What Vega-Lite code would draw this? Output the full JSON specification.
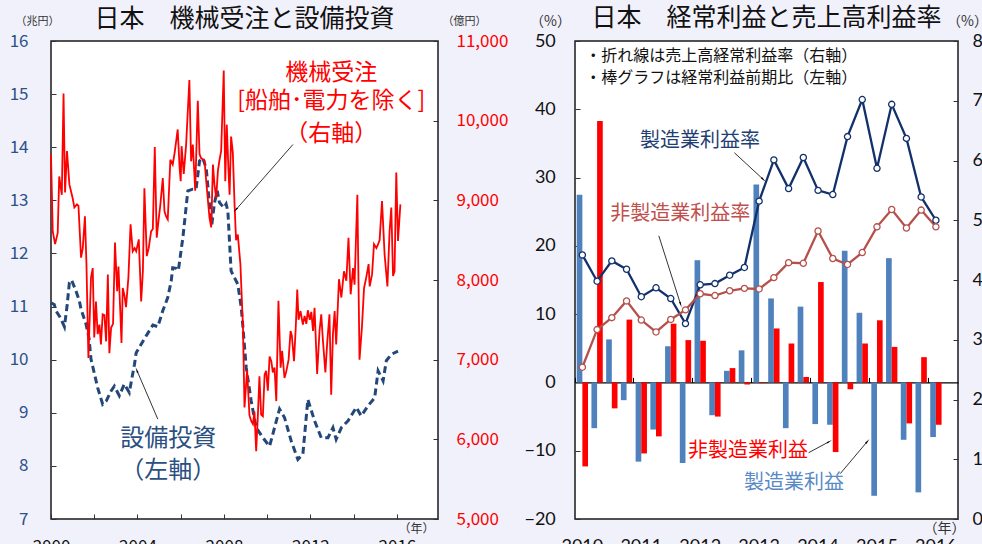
{
  "$schema": "https://vega.github.io/schema/vega-lite/v6.json",
  "background": "#f1f1fb",
  "padding": {"left": 8, "top": 5, "right": 0, "bottom": 0},
  "spacing": 137,
  "bounds": "flush",
  "config": {
    "view": {"stroke": "#1a1a1a", "strokeWidth": 1.5, "fill": "white"},
    "font": "Noto Sans CJK JP",
    "axis": {"grid": false, "domain": false, "tickColor": "#333", "tickWidth": 1, "labelFont": "Noto Sans CJK JP", "titleFont": "Noto Sans CJK JP", "titleFontWeight": "normal", "labelFontSize": 17, "labelOverlap": false},
    "text": {"font": "Noto Sans CJK JP"},
    "title": {"font": "Noto Sans CJK JP", "fontWeight": "normal", "fontSize": 25, "color": "#111"}
  },
  "datasets": {
    "orders": [
      {"t":2000.00,"v":9580},{"t":2000.08,"v":8610},{"t":2000.19,"v":8450},{"t":2000.31,"v":8590},{"t":2000.38,"v":9300},{"t":2000.50,"v":9070},{"t":2000.58,"v":10340},{"t":2000.65,"v":9100},{"t":2000.74,"v":9620},{"t":2000.85,"v":9200},{"t":2001.00,"v":9030},{"t":2001.08,"v":8910},{"t":2001.20,"v":8950},{"t":2001.27,"v":8930},{"t":2001.39,"v":8280},{"t":2001.47,"v":8400},{"t":2001.57,"v":8800},{"t":2001.64,"v":8200},{"t":2001.73,"v":7020},{"t":2001.80,"v":7600},{"t":2001.85,"v":8030},{"t":2001.93,"v":8150},{"t":2002.00,"v":7280},{"t":2002.08,"v":7730},{"t":2002.16,"v":7320},{"t":2002.24,"v":7440},{"t":2002.31,"v":7190},{"t":2002.39,"v":7570},{"t":2002.47,"v":7560},{"t":2002.55,"v":7230},{"t":2002.63,"v":8070},{"t":2002.70,"v":7080},{"t":2002.78,"v":7400},{"t":2002.87,"v":7450},{"t":2002.96,"v":8470},{"t":2003.06,"v":7860},{"t":2003.12,"v":8170},{"t":2003.21,"v":7570},{"t":2003.26,"v":7210},{"t":2003.32,"v":7900},{"t":2003.40,"v":7800},{"t":2003.47,"v":7660},{"t":2003.58,"v":8030},{"t":2003.68,"v":8700},{"t":2003.78,"v":8360},{"t":2003.87,"v":8400},{"t":2003.94,"v":8360},{"t":2004.06,"v":8510},{"t":2004.17,"v":7730},{"t":2004.25,"v":8110},{"t":2004.32,"v":9150},{"t":2004.43,"v":8300},{"t":2004.52,"v":8400},{"t":2004.63,"v":8610},{"t":2004.71,"v":8640},{"t":2004.80,"v":9670},{"t":2004.89,"v":8530},{"t":2004.97,"v":8740},{"t":2005.06,"v":8950},{"t":2005.17,"v":9280},{"t":2005.25,"v":8860},{"t":2005.32,"v":8800},{"t":2005.40,"v":8760},{"t":2005.52,"v":9510},{"t":2005.63,"v":9450},{"t":2005.72,"v":9600},{"t":2005.86,"v":9890},{"t":2005.95,"v":9400},{"t":2006.00,"v":9240},{"t":2006.04,"v":9680},{"t":2006.14,"v":9330},{"t":2006.25,"v":9700},{"t":2006.40,"v":10510},{"t":2006.48,"v":9490},{"t":2006.56,"v":9700},{"t":2006.67,"v":9120},{"t":2006.79,"v":10250},{"t":2006.87,"v":9580},{"t":2006.94,"v":9530},{"t":2007.10,"v":9500},{"t":2007.18,"v":9240},{"t":2007.33,"v":8780},{"t":2007.41,"v":8660},{"t":2007.49,"v":9450},{"t":2007.56,"v":9200},{"t":2007.64,"v":9030},{"t":2007.72,"v":9370},{"t":2007.79,"v":9500},{"t":2007.87,"v":9620},{"t":2007.99,"v":10630},{"t":2008.06,"v":9240},{"t":2008.13,"v":9950},{"t":2008.21,"v":9370},{"t":2008.26,"v":9070},{"t":2008.33,"v":9800},{"t":2008.41,"v":9600},{"t":2008.49,"v":8950},{"t":2008.56,"v":8500},{"t":2008.64,"v":8570},{"t":2008.76,"v":8200},{"t":2008.88,"v":7400},{"t":2008.95,"v":6400},{"t":2009.07,"v":6870},{"t":2009.18,"v":6300},{"t":2009.26,"v":6230},{"t":2009.34,"v":6190},{"t":2009.41,"v":6350},{"t":2009.49,"v":5850},{"t":2009.57,"v":6310},{"t":2009.64,"v":6790},{"t":2009.72,"v":6310},{"t":2009.80,"v":6290},{"t":2009.88,"v":6810},{"t":2009.95,"v":6860},{"t":2010.03,"v":6610},{"t":2010.11,"v":7040},{"t":2010.19,"v":6980},{"t":2010.26,"v":6840},{"t":2010.34,"v":6900},{"t":2010.42,"v":6480},{"t":2010.52,"v":7740},{"t":2010.62,"v":6900},{"t":2010.69,"v":7110},{"t":2010.80,"v":6770},{"t":2010.88,"v":6850},{"t":2010.99,"v":7000},{"t":2011.08,"v":7360},{"t":2011.14,"v":7300},{"t":2011.24,"v":6980},{"t":2011.32,"v":7400},{"t":2011.39,"v":7880},{"t":2011.45,"v":7500},{"t":2011.54,"v":7610},{"t":2011.65,"v":7440},{"t":2011.73,"v":7550},{"t":2011.81,"v":7450},{"t":2011.88,"v":7620},{"t":2011.97,"v":7500},{"t":2012.04,"v":7600},{"t":2012.12,"v":7360},{"t":2012.19,"v":7650},{"t":2012.31,"v":6820},{"t":2012.42,"v":7360},{"t":2012.50,"v":7570},{"t":2012.58,"v":7230},{"t":2012.69,"v":6840},{"t":2012.78,"v":7230},{"t":2012.88,"v":7570},{"t":2012.96,"v":6560},{"t":2013.04,"v":7320},{"t":2013.12,"v":7610},{"t":2013.19,"v":7190},{"t":2013.32,"v":8010},{"t":2013.43,"v":7780},{"t":2013.55,"v":8110},{"t":2013.66,"v":7990},{"t":2013.76,"v":8530},{"t":2013.86,"v":7820},{"t":2013.97,"v":8150},{"t":2014.04,"v":7940},{"t":2014.17,"v":9070},{"t":2014.27,"v":7000},{"t":2014.38,"v":7400},{"t":2014.48,"v":7900},{"t":2014.58,"v":8030},{"t":2014.69,"v":8200},{"t":2014.74,"v":7920},{"t":2014.85,"v":8070},{"t":2014.94,"v":8450},{"t":2015.05,"v":8400},{"t":2015.13,"v":8450},{"t":2015.20,"v":8500},{"t":2015.31,"v":8990},{"t":2015.43,"v":8320},{"t":2015.56,"v":7920},{"t":2015.66,"v":8610},{"t":2015.74,"v":8910},{"t":2015.82,"v":8050},{"t":2015.89,"v":8110},{"t":2015.97,"v":9350},{"t":2016.05,"v":8490},{"t":2016.16,"v":8950}
    ],
    "capex": [
      {"t":2000.00,"v":11.07},{"t":2000.15,"v":11.04},{"t":2000.23,"v":10.92},{"t":2000.42,"v":10.80},{"t":2000.62,"v":10.62},{"t":2000.74,"v":11.00},{"t":2000.85,"v":11.45},{"t":2000.95,"v":11.50},{"t":2001.16,"v":11.29},{"t":2001.31,"v":11.11},{"t":2001.39,"v":10.95},{"t":2001.62,"v":10.67},{"t":2001.76,"v":10.40},{"t":2001.85,"v":10.01},{"t":2002.16,"v":9.47},{"t":2002.39,"v":9.16},{"t":2002.55,"v":9.22},{"t":2002.78,"v":9.41},{"t":2002.93,"v":9.50},{"t":2003.16,"v":9.32},{"t":2003.39,"v":9.54},{"t":2003.62,"v":9.38},{"t":2003.86,"v":9.91},{"t":2003.94,"v":10.13},{"t":2004.17,"v":10.29},{"t":2004.48,"v":10.50},{"t":2004.71,"v":10.65},{"t":2004.94,"v":10.62},{"t":2005.17,"v":10.92},{"t":2005.40,"v":11.17},{"t":2005.56,"v":11.48},{"t":2005.63,"v":11.73},{"t":2005.79,"v":11.72},{"t":2005.89,"v":11.68},{"t":2006.10,"v":12.30},{"t":2006.33,"v":13.18},{"t":2006.56,"v":13.21},{"t":2006.71,"v":13.21},{"t":2006.87,"v":13.74},{"t":2007.02,"v":13.80},{"t":2007.18,"v":13.60},{"t":2007.33,"v":12.93},{"t":2007.44,"v":12.55},{"t":2007.56,"v":12.95},{"t":2007.69,"v":13.18},{"t":2007.79,"v":12.96},{"t":2007.99,"v":12.86},{"t":2008.10,"v":12.93},{"t":2008.18,"v":12.80},{"t":2008.33,"v":11.67},{"t":2008.49,"v":11.54},{"t":2008.64,"v":11.42},{"t":2008.80,"v":10.98},{"t":2008.88,"v":10.60},{"t":2009.03,"v":9.85},{"t":2009.26,"v":9.22},{"t":2009.49,"v":8.72},{"t":2009.80,"v":8.53},{"t":2010.11,"v":8.37},{"t":2010.34,"v":8.72},{"t":2010.57,"v":9.07},{"t":2010.80,"v":8.91},{"t":2011.11,"v":8.47},{"t":2011.42,"v":8.12},{"t":2011.65,"v":8.22},{"t":2011.88,"v":9.25},{"t":2012.19,"v":8.85},{"t":2012.50,"v":8.53},{"t":2012.81,"v":8.53},{"t":2013.04,"v":8.72},{"t":2013.19,"v":8.50},{"t":2013.43,"v":8.72},{"t":2013.74,"v":8.85},{"t":2014.12,"v":9.10},{"t":2014.35,"v":8.94},{"t":2014.66,"v":9.13},{"t":2014.97,"v":9.28},{"t":2015.13,"v":9.79},{"t":2015.36,"v":9.60},{"t":2015.51,"v":9.98},{"t":2015.74,"v":10.10},{"t":2016.05,"v":10.16}
    ],
    "profit": [
      {"q":"2010Q1","s":"製造業","v":27.5},{"q":"2010Q1","s":"非製造業","v":-12.3},
      {"q":"2010Q2","s":"製造業","v":-6.7},{"q":"2010Q2","s":"非製造業","v":38.3},
      {"q":"2010Q3","s":"製造業","v":6.3},{"q":"2010Q3","s":"非製造業","v":-3.8},
      {"q":"2010Q4","s":"製造業","v":-2.6},{"q":"2010Q4","s":"非製造業","v":9.2},
      {"q":"2011Q1","s":"製造業","v":-11.6},{"q":"2011Q1","s":"非製造業","v":-10.4},
      {"q":"2011Q2","s":"製造業","v":-6.9},{"q":"2011Q2","s":"非製造業","v":-7.9},
      {"q":"2011Q3","s":"製造業","v":5.3},{"q":"2011Q3","s":"非製造業","v":8.6},
      {"q":"2011Q4","s":"製造業","v":-11.8},{"q":"2011Q4","s":"非製造業","v":6.2},
      {"q":"2012Q1","s":"製造業","v":17.9},{"q":"2012Q1","s":"非製造業","v":6.1},
      {"q":"2012Q2","s":"製造業","v":-4.8},{"q":"2012Q2","s":"非製造業","v":-5.0},
      {"q":"2012Q3","s":"製造業","v":1.7},{"q":"2012Q3","s":"非製造業","v":2.1},
      {"q":"2012Q4","s":"製造業","v":4.7},{"q":"2012Q4","s":"非製造業","v":-0.3},
      {"q":"2013Q1","s":"製造業","v":29.0},{"q":"2013Q1","s":"非製造業","v":-0.1},
      {"q":"2013Q2","s":"製造業","v":12.3},{"q":"2013Q2","s":"非製造業","v":7.9},
      {"q":"2013Q3","s":"製造業","v":-6.7},{"q":"2013Q3","s":"非製造業","v":5.7},
      {"q":"2013Q4","s":"製造業","v":11.1},{"q":"2013Q4","s":"非製造業","v":0.8},
      {"q":"2014Q1","s":"製造業","v":-6.1},{"q":"2014Q1","s":"非製造業","v":14.7},
      {"q":"2014Q2","s":"製造業","v":-6.2},{"q":"2014Q2","s":"非製造業","v":-10.2},
      {"q":"2014Q3","s":"製造業","v":19.3},{"q":"2014Q3","s":"非製造業","v":-1.0},
      {"q":"2014Q4","s":"製造業","v":10.2},{"q":"2014Q4","s":"非製造業","v":5.7},
      {"q":"2015Q1","s":"製造業","v":-16.6},{"q":"2015Q1","s":"非製造業","v":9.1},
      {"q":"2015Q2","s":"製造業","v":18.2},{"q":"2015Q2","s":"非製造業","v":5.2},
      {"q":"2015Q3","s":"製造業","v":-8.4},{"q":"2015Q3","s":"非製造業","v":-6.0},
      {"q":"2015Q4","s":"製造業","v":-16.1},{"q":"2015Q4","s":"非製造業","v":3.7},
      {"q":"2016Q1","s":"製造業","v":-8.0},{"q":"2016Q1","s":"非製造業","v":-6.2}
    ],
    "margin": [
      {"q":"2010Q1","s":"製造業","v":4.42},{"q":"2010Q2","s":"製造業","v":3.98},{"q":"2010Q3","s":"製造業","v":4.32},{"q":"2010Q4","s":"製造業","v":4.18},
      {"q":"2011Q1","s":"製造業","v":3.72},{"q":"2011Q2","s":"製造業","v":3.87},{"q":"2011Q3","s":"製造業","v":3.69},{"q":"2011Q4","s":"製造業","v":3.27},
      {"q":"2012Q1","s":"製造業","v":3.92},{"q":"2012Q2","s":"製造業","v":3.94},{"q":"2012Q3","s":"製造業","v":4.08},{"q":"2012Q4","s":"製造業","v":4.21},
      {"q":"2013Q1","s":"製造業","v":5.32},{"q":"2013Q2","s":"製造業","v":6.01},{"q":"2013Q3","s":"製造業","v":5.53},{"q":"2013Q4","s":"製造業","v":6.05},
      {"q":"2014Q1","s":"製造業","v":5.50},{"q":"2014Q2","s":"製造業","v":5.43},{"q":"2014Q3","s":"製造業","v":6.40},{"q":"2014Q4","s":"製造業","v":7.02},
      {"q":"2015Q1","s":"製造業","v":5.87},{"q":"2015Q2","s":"製造業","v":6.94},{"q":"2015Q3","s":"製造業","v":6.37},{"q":"2015Q4","s":"製造業","v":5.39},
      {"q":"2016Q1","s":"製造業","v":5.00},
      {"q":"2010Q1","s":"非製造業","v":2.54},{"q":"2010Q2","s":"非製造業","v":3.17},{"q":"2010Q3","s":"非製造業","v":3.37},{"q":"2010Q4","s":"非製造業","v":3.65},
      {"q":"2011Q1","s":"非製造業","v":3.33},{"q":"2011Q2","s":"非製造業","v":3.13},{"q":"2011Q3","s":"非製造業","v":3.34},{"q":"2011Q4","s":"非製造業","v":3.50},
      {"q":"2012Q1","s":"非製造業","v":3.77},{"q":"2012Q2","s":"非製造業","v":3.74},{"q":"2012Q3","s":"非製造業","v":3.82},{"q":"2012Q4","s":"非製造業","v":3.86},
      {"q":"2013Q1","s":"非製造業","v":3.85},{"q":"2013Q2","s":"非製造業","v":4.04},{"q":"2013Q3","s":"非製造業","v":4.29},{"q":"2013Q4","s":"非製造業","v":4.28},
      {"q":"2014Q1","s":"非製造業","v":4.82},{"q":"2014Q2","s":"非製造業","v":4.36},{"q":"2014Q3","s":"非製造業","v":4.26},{"q":"2014Q4","s":"非製造業","v":4.46},
      {"q":"2015Q1","s":"非製造業","v":4.89},{"q":"2015Q2","s":"非製造業","v":5.18},{"q":"2015Q3","s":"非製造業","v":4.87},{"q":"2015Q4","s":"非製造業","v":5.17},
      {"q":"2016Q1","s":"非製造業","v":4.89}
    ]
  },
  "hconcat": [
    {
      "width": 387,
      "height": 478,
      "title": {"text": "日本　機械受注と設備投資", "anchor": "middle", "offset": -17},
      "layer": [
        {
          "layer": [
            {
              "data": {"name": "capex"},
              "mark": {"type": "line", "color": "#24477a", "strokeWidth": 3, "strokeDash": [7, 4]},
              "encoding": {
                "x": {"field": "t", "type": "quantitative", "scale": {"domain": [2000, 2017.9], "nice": false, "zero": false},
                  "axis": {"values": [2000, 2002, 2004, 2006, 2008, 2010, 2012, 2014, 2016], "labelExpr": "datum.value % 4 == 0 ? format(datum.value, 'd') : ''", "labelFlush": false, "tickSize": -5, "labelPadding": 24, "labelColor": "#111", "title": "（年）", "titleFontSize": 12, "titleColor": "#333", "titleX": 365, "titleY": 9, "titleAlign": "center", "titleBaseline": "middle"}},
                "y": {"field": "v", "type": "quantitative", "scale": {"domain": [7, 16], "nice": false, "zero": false},
                  "axis": {"values": [7, 8, 9, 10, 11, 12, 13, 14, 15, 16], "tickSize": -5, "labelPadding": 28, "labelColor": "#2b5289", "title": "（兆円）", "titleAngle": 0, "titleFontSize": 11, "titleColor": "#333", "titleX": -14, "titleY": -20, "titleAlign": "center", "titleBaseline": "middle"}}
              }
            },
            {
              "data": {"values": [{"label": "設備投資", "t": 2005.42, "v": 8.51}, {"label": "（左軸）", "t": 2005.42, "v": 7.9}]},
              "mark": {"type": "text", "color": "#2a4f80", "fontSize": 24, "baseline": "middle", "align": "center"},
              "encoding": {
                "x": {"field": "t", "type": "quantitative", "scale": {"domain": [2000, 2017.9], "nice": false, "zero": false}},
                "y": {"field": "v", "type": "quantitative", "scale": {"domain": [7, 16], "nice": false, "zero": false}},
                "text": {"field": "label"}
              }
            },
            {
              "data": {"values": [{"t1": 2004.94, "v1": 8.88, "t2": 2003.98, "v2": 9.79}]},
              "mark": {"type": "rule", "color": "#000", "strokeWidth": 0.8},
              "encoding": {
                "x": {"field": "t1", "type": "quantitative", "scale": {"domain": [2000, 2017.9], "nice": false, "zero": false}},
                "y": {"field": "v1", "type": "quantitative", "scale": {"domain": [7, 16], "nice": false, "zero": false}},
                "x2": {"field": "t2"},
                "y2": {"field": "v2"}
              }
            },
            {
              "data": {"values": [{"t1": 2004.94, "v1": 8.88, "t2": 2003.98, "v2": 9.79}]},
              "mark": {"type": "point", "shape": "wedge", "angle": 337, "size": 45, "filled": true, "color": "#000", "opacity": 1},
              "encoding": {
                "x": {"field": "t2", "type": "quantitative", "scale": {"domain": [2000, 2017.9], "nice": false, "zero": false}},
                "y": {"field": "v2", "type": "quantitative", "scale": {"domain": [7, 16], "nice": false, "zero": false}}
              }
            }
          ]
        },
        {
          "layer": [
            {
              "data": {"name": "orders"},
              "mark": {"type": "line", "color": "#ff0000", "strokeWidth": 1.8},
              "encoding": {
                "x": {"field": "t", "type": "quantitative", "scale": {"domain": [2000, 2017.9], "nice": false, "zero": false}},
                "y": {"field": "v", "type": "quantitative", "scale": {"domain": [5000, 11000], "nice": false, "zero": false},
                  "axis": {"orient": "right", "values": [5000, 6000, 7000, 8000, 9000, 10000, 11000], "labelExpr": "format(datum.value, ',')", "tickSize": -5, "labelPadding": 23, "labelColor": "#ff0000", "title": "（億円）", "titleAngle": 0, "titleFontSize": 11, "titleColor": "#333", "titleX": 26, "titleY": -20, "titleAlign": "center", "titleBaseline": "middle"}}
              }
            },
            {
              "data": {"values": [{"label": "機械受注", "t": 2012.96, "v": 10596}, {"label": "[船舶･電力を除く]", "t": 2012.96, "v": 10245}, {"label": "（右軸）", "t": 2012.96, "v": 9831}]},
              "mark": {"type": "text", "color": "#ff0000", "fontSize": 23, "baseline": "middle", "align": "center"},
              "encoding": {
                "x": {"field": "t", "type": "quantitative", "scale": {"domain": [2000, 2017.9], "nice": false, "zero": false}},
                "y": {"field": "v", "type": "quantitative", "scale": {"domain": [5000, 11000], "nice": false, "zero": false}},
                "text": {"field": "label"}
              }
            },
            {
              "data": {"values": [{"t1": 2011.19, "v1": 9701, "t2": 2008.565, "v2": 8886}]},
              "mark": {"type": "rule", "color": "#000", "strokeWidth": 0.8},
              "encoding": {
                "x": {"field": "t1", "type": "quantitative", "scale": {"domain": [2000, 2017.9], "nice": false, "zero": false}},
                "y": {"field": "v1", "type": "quantitative", "scale": {"domain": [5000, 11000], "nice": false, "zero": false}},
                "x2": {"field": "t2"},
                "y2": {"field": "v2"}
              }
            },
            {
              "data": {"values": [{"t1": 2011.19, "v1": 9701, "t2": 2008.565, "v2": 8886}]},
              "mark": {"type": "point", "shape": "wedge", "angle": 221, "size": 45, "filled": true, "color": "#000", "opacity": 1},
              "encoding": {
                "x": {"field": "t2", "type": "quantitative", "scale": {"domain": [2000, 2017.9], "nice": false, "zero": false}},
                "y": {"field": "v2", "type": "quantitative", "scale": {"domain": [5000, 11000], "nice": false, "zero": false}}
              }
            }
          ]
        }
      ],
      "resolve": {"scale": {"y": "independent"}}
    },
    {
      "width": 383,
      "height": 478,
      "title": {"text": "日本　経常利益と売上高利益率", "anchor": "middle", "offset": -17},
      "layer": [
        {
          "layer": [
            {
              "data": {"name": "profit"},
              "mark": {"type": "bar"},
              "encoding": {
                "x": {"field": "q", "type": "ordinal",
                  "scale": {"domain": ["2010Q1","2010Q2","2010Q3","2010Q4","2011Q1","2011Q2","2011Q3","2011Q4","2012Q1","2012Q2","2012Q3","2012Q4","2013Q1","2013Q2","2013Q3","2013Q4","2014Q1","2014Q2","2014Q3","2014Q4","2015Q1","2015Q2","2015Q3","2015Q4","2016Q1","2016Q2"], "paddingInner": 0, "paddingOuter": 0},
                  "axis": {"values": ["2010Q1","2011Q1","2012Q1","2013Q1","2014Q1","2015Q1","2016Q1"], "bandPosition": 0, "labelExpr": "substring(datum.value, 0, 4)", "labelOffset": 0, "labelAngle": 0, "offset": -136.6, "tickSize": -5, "tickColor": "#000", "domain": true, "domainColor": "#000", "domainWidth": 1.2, "labelPadding": 160, "labelColor": "#111", "labelFont": "Lato", "labelFontSize": 18, "title": "（年）", "titleFontSize": 14, "titleColor": "#333", "titleX": 369, "titleY": 146, "titleAlign": "center", "titleBaseline": "middle"}},
                "xOffset": {"field": "s", "type": "nominal", "sort": ["製造業", "非製造業"], "scale": {"paddingOuter": 0.3, "paddingInner": 0}},
                "y": {"field": "v", "type": "quantitative", "scale": {"domain": [-20, 50], "nice": false, "zero": false},
                  "axis": {"values": [-20, -10, 0, 10, 20, 30, 40, 50], "tickSize": -5, "labelPadding": 24.7, "labelColor": "#111", "labelFont": "Lato", "labelFontSize": 18, "title": "（%）", "titleAngle": 0, "titleFontSize": 14, "titleColor": "#333", "titleX": -25, "titleY": -20, "titleAlign": "center", "titleBaseline": "middle"}},
                "color": {"field": "s", "type": "nominal", "scale": {"domain": ["製造業", "非製造業"], "range": ["#4f81bd", "#ff0000"]}, "legend": null}
              }
            }
          ]
        },
        {
          "layer": [
            {
              "data": {"name": "margin"},
              "mark": {"type": "line", "strokeWidth": 2.3},
              "encoding": {
                "x": {"field": "q", "type": "ordinal",
                  "scale": {"domain": ["2010Q1","2010Q2","2010Q3","2010Q4","2011Q1","2011Q2","2011Q3","2011Q4","2012Q1","2012Q2","2012Q3","2012Q4","2013Q1","2013Q2","2013Q3","2013Q4","2014Q1","2014Q2","2014Q3","2014Q4","2015Q1","2015Q2","2015Q3","2015Q4","2016Q1","2016Q2"], "paddingInner": 0, "paddingOuter": 0}, "axis": null},
                "y": {"field": "v", "type": "quantitative", "scale": {"domain": [0, 8], "nice": false, "zero": false},
                  "axis": {"orient": "right", "values": [0, 1, 2, 3, 4, 5, 6, 7, 8], "tickSize": -5, "labelPadding": 19, "labelColor": "#111", "labelFont": "Lato", "labelFontSize": 18, "title": "（%）", "titleAngle": 0, "titleFontSize": 14, "titleColor": "#333", "titleX": 9, "titleY": -20, "titleAlign": "center", "titleBaseline": "middle"}},
                "color": {"field": "s", "type": "nominal", "scale": {"domain": ["製造業", "非製造業"], "range": ["#12306b", "#b5504b"]}, "legend": null}
              }
            },
            {
              "data": {"name": "margin"},
              "mark": {"type": "point", "filled": true, "fill": "white", "size": 38, "strokeWidth": 1.3, "opacity": 1},
              "encoding": {
                "x": {"field": "q", "type": "ordinal"},
                "y": {"field": "v", "type": "quantitative"},
                "stroke": {"field": "s", "type": "nominal", "scale": {"domain": ["製造業", "非製造業"], "range": ["#12306b", "#b5504b"]}, "legend": null}
              }
            }
          ]
        },
        {
          "layer": [
            {
              "data": {"values": [{"label": "・折れ線は売上高経常利益率（右軸）", "u": 0.7, "w": 7.75}, {"label": "・棒グラフは経常利益前期比（左軸）", "u": 0.7, "w": 7.38}]},
              "mark": {"type": "text", "color": "#111", "fontSize": 16, "align": "left", "baseline": "middle"},
              "encoding": {
                "x": {"field": "u", "type": "quantitative", "scale": {"domain": [0, 26], "nice": false, "zero": false}, "axis": null},
                "y": {"field": "w", "type": "quantitative", "scale": {"domain": [0, 8], "nice": false, "zero": false}, "axis": null},
                "text": {"field": "label"}
              }
            },
            {
              "data": {"values": [{"label": "製造業利益率", "u": 8.49, "w": 6.33}]},
              "mark": {"type": "text", "color": "#1f3f73", "fontSize": 20, "align": "center", "baseline": "middle"},
              "encoding": {"x": {"field": "u", "type": "quantitative"}, "y": {"field": "w", "type": "quantitative"}, "text": {"field": "label"}}
            },
            {
              "data": {"values": [{"label": "非製造業利益率", "u": 7.14, "w": 5.1}]},
              "mark": {"type": "text", "color": "#c0504d", "fontSize": 20, "align": "center", "baseline": "middle"},
              "encoding": {"x": {"field": "u", "type": "quantitative"}, "y": {"field": "w", "type": "quantitative"}, "text": {"field": "label"}}
            },
            {
              "data": {"values": [{"label": "非製造業利益", "u": 11.75, "w": 1.14}]},
              "mark": {"type": "text", "color": "#ff0000", "fontSize": 20, "align": "center", "baseline": "middle"},
              "encoding": {"x": {"field": "u", "type": "quantitative"}, "y": {"field": "w", "type": "quantitative"}, "text": {"field": "label"}}
            },
            {
              "data": {"values": [{"label": "製造業利益", "u": 14.87, "w": 0.6}]},
              "mark": {"type": "text", "color": "#5a8ac6", "fontSize": 20, "align": "center", "baseline": "middle"},
              "encoding": {"x": {"field": "u", "type": "quantitative"}, "y": {"field": "w", "type": "quantitative"}, "text": {"field": "label"}}
            },
            {
              "data": {"values": [{"u1": 10.82, "w1": 6.13, "u2": 12.75, "w2": 5.69}, {"u1": 5.69, "w1": 4.74, "u2": 7.16, "w2": 3.6}, {"u1": 15.86, "w1": 1.11, "u2": 17.22, "w2": 1.29}, {"u1": 18.01, "w1": 0.76, "u2": 19.82, "w2": 1.29}]},
              "mark": {"type": "rule", "color": "#000", "strokeWidth": 0.8},
              "encoding": {"x": {"field": "u1", "type": "quantitative"}, "y": {"field": "w1", "type": "quantitative"}, "x2": {"field": "u2"}, "y2": {"field": "w2"}}
            },
            {
              "data": {"values": [{"u2": 12.75, "w2": 5.69}]},
              "mark": {"type": "point", "shape": "wedge", "angle": 133, "size": 45, "filled": true, "color": "#000", "opacity": 1},
              "encoding": {"x": {"field": "u2", "type": "quantitative"}, "y": {"field": "w2", "type": "quantitative"}}
            },
            {
              "data": {"values": [{"u2": 7.16, "w2": 3.6}]},
              "mark": {"type": "point", "shape": "wedge", "angle": 162, "size": 45, "filled": true, "color": "#000", "opacity": 1},
              "encoding": {"x": {"field": "u2", "type": "quantitative"}, "y": {"field": "w2", "type": "quantitative"}}
            },
            {
              "data": {"values": [{"u2": 17.22, "w2": 1.29}]},
              "mark": {"type": "point", "shape": "wedge", "angle": 61, "size": 45, "filled": true, "color": "#000", "opacity": 1},
              "encoding": {"x": {"field": "u2", "type": "quantitative"}, "y": {"field": "w2", "type": "quantitative"}}
            },
            {
              "data": {"values": [{"u2": 19.82, "w2": 1.29}]},
              "mark": {"type": "point", "shape": "wedge", "angle": 40, "size": 45, "filled": true, "color": "#000", "opacity": 1},
              "encoding": {"x": {"field": "u2", "type": "quantitative"}, "y": {"field": "w2", "type": "quantitative"}}
            }
          ]
        }
      ],
      "resolve": {"scale": {"x": "independent", "y": "independent", "color": "independent", "stroke": "independent"}}
    }
  ]
}
